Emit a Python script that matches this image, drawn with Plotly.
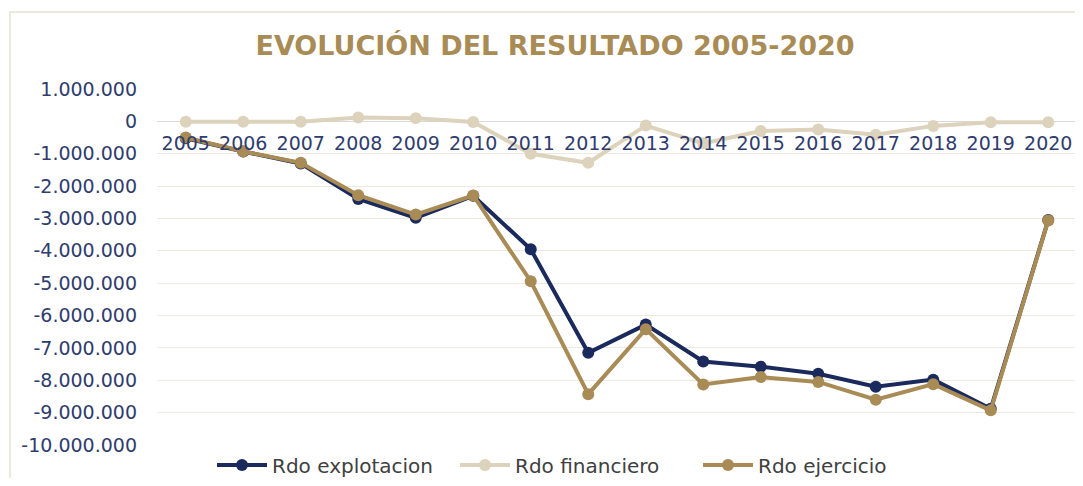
import plotly.graph_objects as go

years = ["2005", "2006", "2007", "2008", "2009", "2010", "2011", "2012",
         "2013", "2014", "2015", "2016", "2017", "2018", "2019", "2020"]
rdo_explotacion = [-520000, -930000, -1300000, -2400000, -2980000, -2300000, -3950000, -7150000,
                   -6280000, -7420000, -7580000, -7800000, -8200000, -7980000, -8880000, -3050000]
rdo_financiero = [-10000, -10000, -10000, 120000, 100000, -20000, -1000000, -1280000,
                  -130000, -680000, -300000, -250000, -410000, -140000, -30000, -30000]
rdo_ejercicio = [-500000, -930000, -1280000, -2280000, -2880000, -2290000, -4940000, -8430000,
                 -6420000, -8130000, -7900000, -8050000, -8600000, -8120000, -8930000, -3060000]
y_ticks = [1000000, 0, -1000000, -2000000, -3000000, -4000000, -5000000, -6000000,
           -7000000, -8000000, -9000000, -10000000]
y_ticktext = [f"{v:,}".replace(",", ".") for v in y_ticks]

NAVY = "#1B2A5C"
BEIGE = "#DDD3BC"
GOLD = "#A88B55"
TICK = "#2F3C6E"
FONT = "DejaVu Sans"

# page body has an 8px margin; work in screen pixels and convert
OFF = 8
W, H = 1067, 470
plot_left, plot_right = 157, 1077
plot_top, plot_bot = 89, 445
ML = plot_left - OFF
MR = max(0, W - (plot_right - OFF))
PW = W - ML - MR


def py(pix):
    return (H - (pix - OFF)) / H


def px(pix):
    return (pix - OFF - ML) / PW


fig = go.Figure()
for name, vals, col in [("Rdo explotacion", rdo_explotacion, NAVY),
                        ("Rdo financiero", rdo_financiero, BEIGE),
                        ("Rdo ejercicio", rdo_ejercicio, GOLD)]:
    fig.add_trace(go.Scatter(x=years, y=vals, name=name, mode="lines+markers",
                             line=dict(color=col, width=4),
                             marker=dict(color=col, size=12)))

ymin, ymax = -10000000, 1000000
dom = [py(plot_bot), py(plot_top)]
zero_pos = dom[0] + (dom[1] - dom[0]) * (0 - ymin) / (ymax - ymin)

# x range chosen so categories sit at reference pixel spacing even if right edge is clipped
step = (plot_right - plot_left) / 16.0
x_hi = -0.5 + PW / step

fig.update_layout(
    width=W, height=H,
    margin=dict(l=ML, r=MR, t=0, b=0, autoexpand=False),
    paper_bgcolor="white", plot_bgcolor="white",
    font=dict(family=FONT, size=19, color=TICK),
    title=dict(text="<b>EVOLUCIÓN DEL RESULTADO 2005-2020</b>",
               x=(555 - OFF) / W, xref="container", xanchor="center",
               y=py(46), yref="container", yanchor="middle",
               font=dict(family=FONT, size=27, color=GOLD)),
    showlegend=True,
    legend=dict(orientation="h", x=px(212), xanchor="left", y=py(465), yanchor="middle",
                font=dict(family=FONT, size=20, color="#404040"),
                entrywidth=178, entrywidthmode="pixels", itemwidth=50,
                bgcolor="rgba(0,0,0,0)"),
    xaxis=dict(type="category", anchor="free", position=zero_pos, automargin=False,
               showgrid=False, showline=False, ticks="", zeroline=False,
               ticklabelstandoff=9,
               tickfont=dict(family=FONT, size=19, color=TICK),
               range=[-0.5, x_hi]),
    yaxis=dict(range=[ymin, ymax], domain=dom, tickvals=y_ticks, ticktext=y_ticktext,
               automargin=False,
               showgrid=True, gridcolor="#EEE9DD", gridwidth=1,
               zeroline=True, zerolinecolor="#D9D9D9", zerolinewidth=1,
               showline=False, ticks="", ticklabelstandoff=19,
               tickfont=dict(family=FONT, size=19, color=TICK)),
    shapes=[dict(type="rect", xref="paper", yref="paper",
                 x0=px(10), x1=px(1100), y0=py(500), y1=py(12),
                 line=dict(color="#EDE8DC", width=2), fillcolor="rgba(0,0,0,0)", layer="below")],
)

fig.write_html("out.html")
